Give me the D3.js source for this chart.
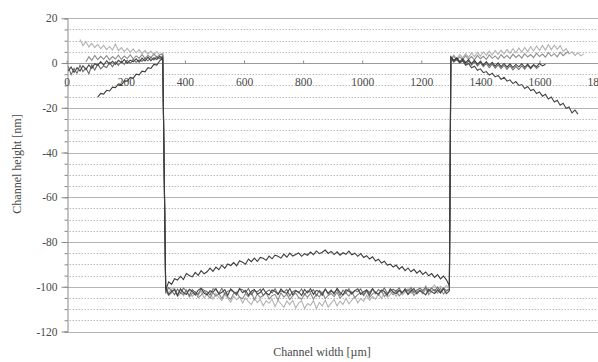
<!DOCTYPE html>
<html>
<head>
<meta charset="utf-8">
<script src="https://cdn.jsdelivr.net/npm/d3@7"></script>
<style>
  body { margin: 0; background: #fff; }
  svg text { font-family: "Liberation Serif", "DejaVu Serif", serif !important; fill: #4a4a4a; }
</style>
</head>
<body>
<div id="chart"></div>
<script>
// axis ticks
const xTicks = [0, 200, 400, 600, 800, 1000, 1200, 1400, 1600, 1800];
const yMajor = [20, 0, -20, -40, -60, -80, -100, -120];
const yMinor = d3.range(20, -121, -5);

// profiles sampled every 10 µm: left plateau, channel floor, right plateau
const step = 10;
const floorStart = 335;
const rightStart = 1300;

const aLeftStart = 5;
const aLeft = [-3.5,-1.8,-4.2,-2.1,-3.6,-1.2,-2.9,-0.8,-2.4,-0.3,-1.1,0.6,-0.9,1.0,-0.4,0.8,-0.6,1.2,0.2,1.5,-0.1,1.3,0.5,1.9,0.4,2.2,0.9,2.6,1.1,2.4,1.6,3.0,1.8];
const aFloor = [-100.8,-103.5,-102.1,-101.2,-103.9,-100.9,-102.6,-103.4,-101.1,-102.0,
  -103.7,-101.5,-100.7,-102.9,-103.6,-101.8,-102.4,-100.9,-103.2,-102.5,
  -101.3,-103.9,-101.0,-102.2,-103.1,-100.8,-102.7,-101.6,-103.8,-102.0,
  -101.2,-103.3,-102.6,-100.9,-102.8,-103.7,-101.4,-102.1,-103.5,-101.0,
  -102.4,-103.0,-100.8,-103.6,-101.9,-102.3,-103.9,-101.2,-102.7,-100.9,
  -103.4,-101.6,-102.2,-103.8,-101.0,-102.9,-101.5,-103.2,-100.7,-102.5,
  -103.6,-101.3,-102.0,-103.1,-101.7,-100.9,-103.4,-102.2,-101.4,-103.7,
  -101.0,-102.6,-103.3,-101.5,-102.1,-103.8,-100.9,-102.4,-103.0,-101.6,
  -102.8,-101.1,-103.5,-102.0,-100.8,-103.2,-101.7,-102.5,-103.6,-101.2,
  -102.3,-103.0,-101.4,-102.8,-100.9,-103.1,-101.8];
const aRight = [2.5,0.9,2.0,0.2,1.0,-1.0,-0.2,-2.1,-1.4,-3.2,-2.6,-4.3,-3.8,-5.4,-4.6,-6.2,-5.5,-7.3,-6.4,-8.1,
  -7.5,-9.2,-8.3,-10.0,-9.6,-11.4,-10.5,-12.3,-11.8,-13.6,-12.9,-14.8,-14.0,-16.1,-15.2,-17.4,-16.6,-18.9,-18.0,-20.2,
  -19.6,-22.3,-21.0,-22.8];

const bLeftStart = 105;
const bLeft = [-15.2,-13.6,-13.9,-12.2,-12.5,-10.8,-11.0,-9.3,-9.7,-8.0,-8.1,-6.4,-6.8,-5.0,-5.3,-3.6,-3.9,-2.1,-2.4,-0.6,-0.9,1.0,2.4];
const bFloor = [-101.5,-97.8,-98.9,-96.4,-97.0,-95.3,-96.8,-94.1,-95.0,-95.6,
  -93.6,-94.9,-92.8,-94.2,-93.3,-91.7,-93.1,-91.2,-92.4,-90.3,
  -91.8,-89.8,-90.5,-89.2,-90.6,-88.4,-89.0,-89.9,-87.6,-88.8,
  -87.2,-88.7,-86.9,-87.3,-88.2,-86.3,-87.5,-85.9,-86.4,-87.2,
  -85.4,-86.8,-85.0,-86.3,-85.6,-84.9,-86.4,-85.2,-85.9,-84.5,
  -85.7,-84.0,-85.2,-84.6,-83.6,-85.1,-84.2,-85.6,-84.4,-85.9,
  -84.8,-85.5,-84.1,-85.7,-85.0,-86.4,-85.2,-86.9,-86.1,-87.6,
  -86.6,-88.5,-87.7,-89.4,-88.6,-90.3,-89.9,-91.2,-90.3,-92.1,
  -91.0,-92.8,-91.6,-93.3,-92.2,-93.9,-92.8,-94.5,-93.4,-95.1,
  -94.1,-95.8,-94.6,-96.5,-95.2,-96.9,-99.5];
const bRight = [2.8,1.2,2.3,0.6,1.9,0.2,1.5,-0.3,1.2,-0.5,0.8,-0.9,0.6,-1.1,0.3,-1.4,0.1,-1.6,-0.2,-1.8,-0.4,-2.0,-0.6,-1.7,-0.3,-1.9,-0.5,-2.1,-0.7,-1.6,-0.2,-1.3,-0.5];

const cLeftStart = 45;
const cLeft = [10.5,7.8,9.6,7.2,8.8,6.9,8.3,6.4,7.9,6.0,7.4,5.8,8.5,5.5,6.9,5.1,6.6,4.8,6.3,4.5,6.0,4.2,5.7,4.0,5.4,3.8,5.1,3.6,4.5];
const cFloor = [-99.5,-102.8,-101.0,-100.6,-103.4,-101.2,-104.1,-102.0,-101.5,-104.3,
  -102.6,-103.9,-101.8,-105.0,-103.1,-102.4,-105.6,-103.0,-104.8,-106.2,
  -103.5,-105.1,-106.9,-104.2,-105.8,-104.4,-107.3,-105.0,-106.6,-108.0,
  -105.2,-107.1,-105.6,-108.5,-106.3,-107.4,-105.5,-108.9,-106.0,-107.6,
  -109.2,-106.4,-108.0,-106.1,-109.5,-107.2,-106.3,-109.7,-107.5,-108.4,
  -106.2,-109.8,-107.0,-108.6,-106.0,-109.1,-107.3,-105.7,-108.6,-106.4,
  -107.9,-105.1,-107.6,-106.0,-104.5,-107.2,-105.3,-106.4,-103.8,-106.0,
  -104.4,-105.5,-103.2,-105.2,-102.6,-104.7,-103.5,-102.1,-104.3,-101.6,
  -103.6,-102.4,-100.9,-103.0,-101.7,-102.3,-100.2,-102.0,-99.6,-101.5,
  -100.4,-99.3,-101.4,-99.8,-100.9,-99.5,-100.2];
const cRight = [2.2,3.6,1.8,3.9,2.3,4.2,2.6,4.5,2.9,4.8,3.1,5.0,3.4,5.3,3.6,5.6,3.9,5.8,4.1,6.1,
  4.4,6.4,4.6,6.7,4.9,7.0,5.1,7.3,5.4,7.6,5.6,7.9,5.8,8.2,6.0,8.0,6.1,7.8,5.2,6.4,
  4.1,5.0,3.4,4.6,3.2,4.1];

const dLeftStart = 65;
const dLeft = [0.5,2.8,1.2,3.4,1.5,3.0,1.7,3.3,1.4,2.9,1.8,3.5,1.6,3.1,2.0,3.6,1.9,3.2,2.2,3.8,2.1,3.4,2.5,4.0,2.6,3.7,3.9];
const dFloor = [-101.8,-103.9,-102.6,-101.2,-104.3,-102.9,-103.5,-101.4,-104.6,-103.0,
  -102.2,-104.9,-103.7,-101.9,-103.4,-105.1,-102.6,-104.2,-103.1,-105.3,
  -102.8,-104.4,-105.6,-103.0,-102.3,-104.7,-105.4,-103.1,-104.5,-102.5,
  -105.8,-103.2,-104.8,-103.9,-102.6,-105.5,-104.0,-103.4,-105.9,-102.7,
  -104.6,-103.3,-105.7,-104.1,-102.8,-104.8,-105.6,-103.2,-104.7,-102.9,
  -105.5,-103.4,-104.5,-102.6,-105.3,-103.9,-103.0,-104.4,-102.4,-105.1,
  -103.6,-102.8,-104.2,-102.2,-104.9,-103.5,-102.6,-104.0,-101.9,-104.7,
  -103.2,-102.3,-103.8,-101.7,-104.4,-102.9,-102.0,-103.6,-101.5,-104.1,
  -102.5,-101.8,-103.3,-101.2,-103.9,-102.4,-101.5,-103.1,-100.9,-103.6,
  -102.0,-101.2,-102.8,-100.7,-103.3,-101.8,-101.0];
const dRight = [1.6,3.1,1.2,2.8,1.5,3.3,1.7,2.9,1.4,3.4,1.9,3.0,1.6,3.6,2.1,3.2,1.8,3.8,2.3,3.4,
  2.0,4.0,2.5,3.6,2.2,4.2,2.7,3.8,2.4,4.4,2.9,4.0,2.6,4.6,3.1,4.2,2.8,4.8,3.3,4.5,5.0];

const eLeftStart = 5;
const eLeft = [-1.5,-5.2,-2.4,-4.6,-1.0,-3.9,-2.2,-4.8,-0.8,-3.1,-0.4,-2.6,-1.3,-2.0,0.2,-1.7,0.5,-1.0,0.9,-0.6,1.2,-0.2,1.6,0.3,1.4,0.8,2.1,1.0,2.5,1.4,2.8,1.9,3.2];
const eFloor = [-102.5,-100.4,-101.8,-103.6,-101.0,-102.8,-100.6,-101.9,-103.9,-101.3,
  -102.5,-103.4,-100.8,-101.5,-102.2,-103.7,-100.9,-101.2,-102.9,-100.7,
  -103.3,-102.0,-101.6,-102.4,-103.8,-101.0,-101.3,-102.6,-100.8,-103.5,
  -101.7,-102.3,-101.1,-103.9,-102.4,-101.4,-102.7,-100.9,-103.2,-101.8,
  -102.5,-101.2,-104.1,-102.2,-101.5,-102.8,-101.0,-103.6,-101.9,-102.4,
  -101.3,-104.0,-101.6,-102.9,-101.1,-103.4,-102.0,-102.6,-101.2,-103.8,
  -101.5,-102.7,-100.9,-103.3,-101.7,-102.2,-101.0,-103.6,-101.4,-102.5,
  -100.8,-103.1,-101.2,-102.3,-100.6,-103.0,-101.9,-101.1,-102.1,-100.5,
  -102.8,-100.9,-102.0,-100.3,-102.6,-101.4,-100.7,-101.8,-100.2,-102.4,
  -100.6,-101.9,-100.1,-102.2,-100.5,-101.7,-101.3];
const eRight = [2.0,0.4,1.6,-0.1,1.2,-0.5,0.9,-0.9,0.5,-1.3,0.2,-1.6,-0.2,-2.0,-0.5,-2.3,-0.8,-2.5,-1.0,-2.8,
  -1.2,-3.0,-1.5,-2.9,-1.3,-2.7,-1.0,-2.6,-0.9,-2.4,-1.2];

const width = 598, height = 362;
const serif = '"Liberation Serif", "DejaVu Serif", serif';

const x = d3.scaleLinear().domain([0, 1800]).range([66.7, 598.6]);
const y = d3.scaleLinear().domain([-120, 20]).range([331.5, 18.3]);

const svg = d3.select('#chart').append('svg')
  .attr('width', width)
  .attr('height', height);

// grid: dotted every 5, solid every 20
svg.append('g').selectAll('line')
  .data(yMinor.filter(v => v % 20 !== 0))
  .enter().append('line')
  .attr('x1', x(0)).attr('x2', x(1800))
  .attr('y1', d => Math.round(y(d)) + 0.5).attr('y2', d => Math.round(y(d)) + 0.5)
  .attr('stroke', '#9a9a9a')
  .attr('stroke-dasharray', '1,2');

svg.append('g').selectAll('line')
  .data(yMajor)
  .enter().append('line')
  .attr('x1', x(0)).attr('x2', x(1800))
  .attr('y1', d => Math.round(y(d)) + 0.5).attr('y2', d => Math.round(y(d)) + 0.5)
  .attr('stroke', d => d === 0 ? '#9a9a9a' : '#b5b5b5');

// y axis with minor ticks
const yAxis = svg.append('g')
  .attr('transform', `translate(${Math.round(x(0)) + 0.5},0)`)
  .call(d3.axisLeft(y).tickValues(yMinor).tickSize(3).tickFormat(''));
yAxis.selectAll('path, line').attr('stroke', '#8a8a8a');

const yAxisMajor = svg.append('g')
  .attr('transform', `translate(${Math.round(x(0)) + 0.5},0)`)
  .attr('font-family', serif)
  .call(d3.axisLeft(y).tickValues(yMajor).tickSize(6).tickPadding(4).tickFormat(d => String(d)));
yAxisMajor.attr('font-family', serif).attr('font-size', 11.5);
yAxisMajor.select('.domain').remove();
yAxisMajor.selectAll('line').attr('stroke', '#8a8a8a');
yAxisMajor.selectAll('text').attr('fill', '#4a4a4a');

// x axis sits on the zero line, ticks pointing up, labels below
const xAxis = svg.append('g')
  .attr('transform', `translate(0,${Math.round(y(0)) + 0.5})`)
  .call(d3.axisBottom(x).tickValues(xTicks).tickSize(-3).tickPadding(14).tickFormat(d => String(d)));
xAxis.attr('font-family', serif).attr('font-size', 11.5);
xAxis.select('.domain').remove();
xAxis.selectAll('line').attr('stroke', '#8a8a8a');
xAxis.selectAll('text').attr('fill', '#4a4a4a');

// profiles
function profile(leftStart, left, floor, right) {
  const pts = [];
  left.forEach((v, i) => pts.push([leftStart + i * step, v]));
  floor.forEach((v, i) => pts.push([floorStart + i * step, v]));
  right.forEach((v, i) => pts.push([rightStart + i * step, v]));
  return pts;
}

const series = [
  { pts: profile(cLeftStart, cLeft, cFloor, cRight), color: '#b2b2b2' },
  { pts: profile(dLeftStart, dLeft, dFloor, dRight), color: '#8c8c8c' },
  { pts: profile(eLeftStart, eLeft, eFloor, eRight), color: '#6e6e6e' },
  { pts: profile(aLeftStart, aLeft, aFloor, aRight), color: '#454545' },
  { pts: profile(bLeftStart, bLeft, bFloor, bRight), color: '#3c3c3c' }
];

const line = d3.line().x(d => x(d[0])).y(d => y(d[1]));

svg.append('g').selectAll('path')
  .data(series)
  .enter().append('path')
  .attr('d', d => line(d.pts))
  .attr('fill', 'none')
  .attr('stroke', d => d.color)
  .attr('stroke-width', 1.1);

// axis titles
svg.append('text')
  .attr('x', 322)
  .attr('y', 356)
  .attr('text-anchor', 'middle')
  .style('font-size', '12px')
  .text('Channel width [µm]');

svg.append('text')
  .attr('transform', 'translate(21,164) rotate(-90)')
  .attr('text-anchor', 'middle')
  .style('font-size', '12px')
  .text('Channel height [nm]');
</script>
</body>
</html>
